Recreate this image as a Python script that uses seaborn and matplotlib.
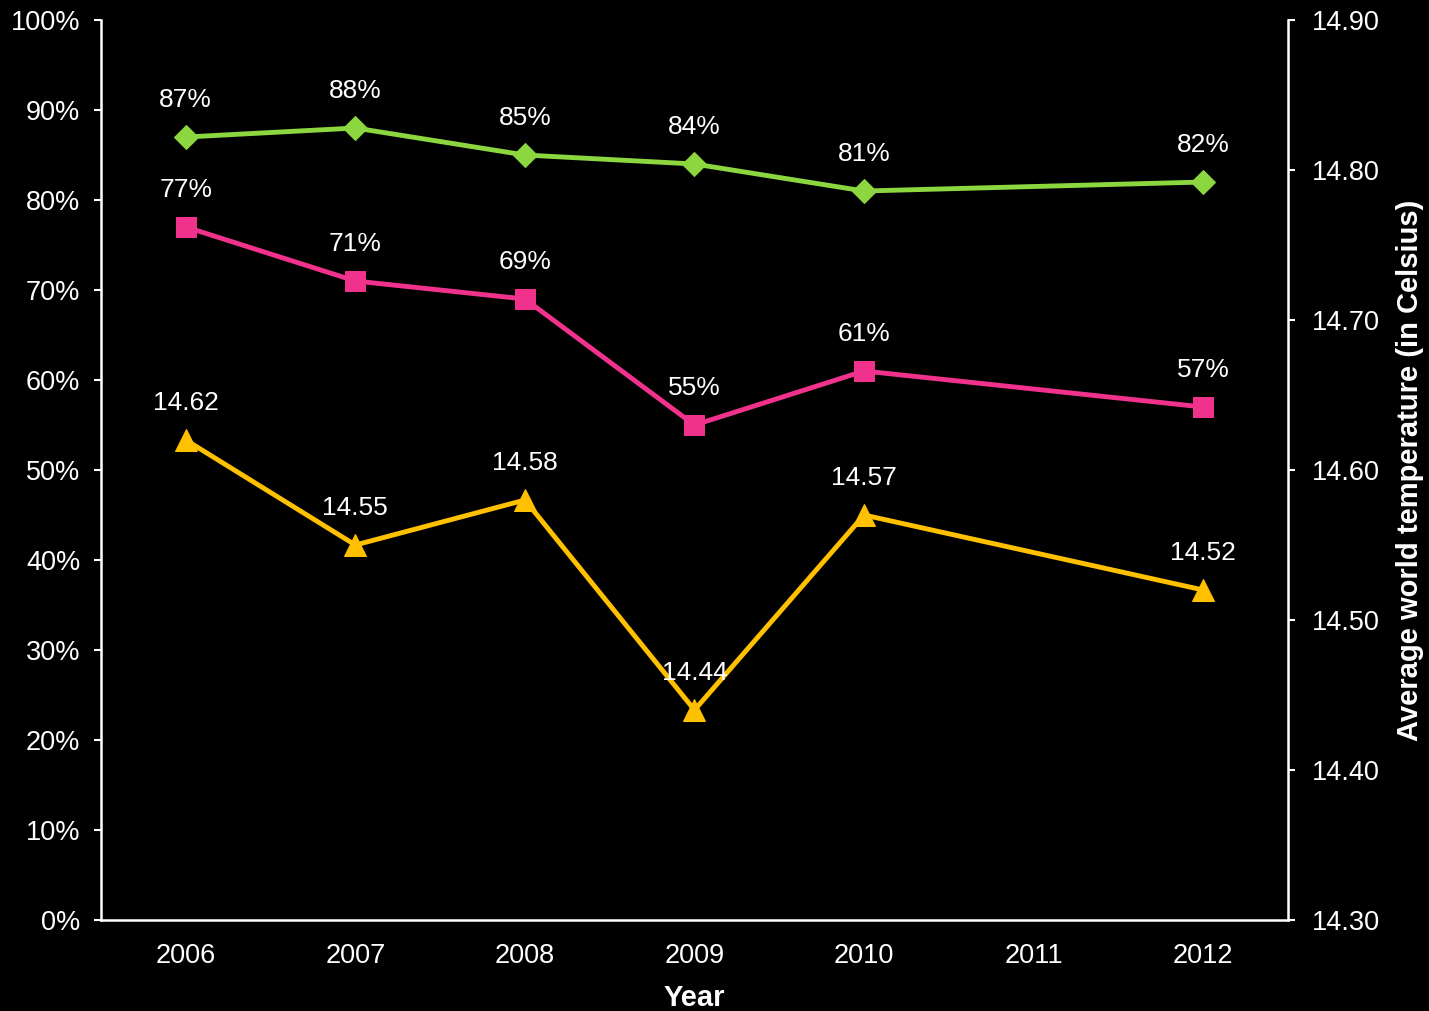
import pandas as pd
import matplotlib
matplotlib.use('Agg')
import matplotlib.pyplot as plt
import seaborn as sns
from matplotlib.ticker import FixedLocator, FuncFormatter

# data
years = [2006, 2007, 2008, 2009, 2010, 2012]
green_pct = [87, 88, 85, 84, 81, 82]
pink_pct = [77, 71, 69, 55, 61, 57]
temperature = [14.62, 14.55, 14.58, 14.44, 14.57, 14.52]
tick_years = [2006, 2007, 2008, 2009, 2010, 2011, 2012]

green = '#8CD640'
pink = '#F0328C'
yellow = '#FFC000'

sns.set_style('dark')
plt.rcParams['font.family'] = ['Liberation Sans', 'DejaVu Sans']
plt.rcParams['text.color'] = 'white'

df = pd.DataFrame({'Year': years, 'green': green_pct, 'pink': pink_pct, 'temp': temperature})

fig = plt.figure(figsize=(14.29, 10.11), dpi=100, facecolor='black')
ax = fig.add_axes([0.0707, 0.09, 0.8306, 0.8902])
ax.set_facecolor('black')
ax2 = ax.twinx()

sns.lineplot(data=df, x='Year', y='green', ax=ax, color=green, lw=3.5, marker='D',
             markersize=12, markeredgecolor=green)
sns.lineplot(data=df, x='Year', y='pink', ax=ax, color=pink, lw=3.5, marker='s',
             markersize=15, markeredgecolor=pink)
sns.lineplot(data=df, x='Year', y='temp', ax=ax2, color=yellow, lw=3.5, marker='^',
             markersize=16, markeredgecolor=yellow)

fs = 19
off = 26.5
for x, g, p, t in zip(years, green_pct, pink_pct, temperature):
    ax.annotate(f'{g}%', (x, g), xytext=(0, off), textcoords='offset points',
                ha='center', va='center', fontsize=fs, color='white')
    ax.annotate(f'{p}%', (x, p), xytext=(0, off), textcoords='offset points',
                ha='center', va='center', fontsize=fs, color='white')
    ax2.annotate(f'{t:.2f}', (x, t), xytext=(0, off), textcoords='offset points',
                 ha='center', va='center', fontsize=fs, color='white')

ax.set_xlim(2005.5, 2012.5)
ax.set_ylim(0, 100)
ax2.set_ylim(14.30, 14.90)

ax.set_xticks(tick_years)
ax.set_xticklabels([str(y) for y in tick_years])
ax.xaxis.set_minor_locator(FixedLocator([y + 0.5 for y in range(2005, 2013)]))
ax.tick_params(axis='x', which='major', length=0, pad=16.5, labelsize=19.5, colors='white')
ax.tick_params(axis='x', which='minor', length=6, width=1.5, color='white', direction='out')

ax.set_yticks(range(0, 101, 10))
ax.yaxis.set_major_formatter(FuncFormatter(lambda v, _: f'{v:.0f}%'))
ax.tick_params(axis='y', length=5, width=1.5, colors='white', labelsize=19.5, direction='out', pad=10)

ax2.set_yticks([14.30 + 0.1 * i for i in range(7)])
ax2.yaxis.set_major_formatter(FuncFormatter(lambda v, _: f'{v:.2f}'))
ax2.tick_params(axis='y', length=5, width=1.5, colors='white', labelsize=19.5, direction='out', pad=12)

ax.grid(False)
ax2.grid(False)
for a in (ax, ax2):
    for s in a.spines.values():
        s.set_visible(False)
ax.spines['left'].set_visible(True)
ax.spines['bottom'].set_visible(True)
ax2.spines['right'].set_visible(True)
for s in (ax.spines['left'], ax.spines['bottom'], ax2.spines['right']):
    s.set_color('white')
    s.set_linewidth(1.8)

ax.set_xlabel('Year', fontsize=21, fontweight='bold', color='white', labelpad=11)
ax.set_ylabel('')
ax2.set_ylabel('Average world temperature (in Celsius)', fontsize=21, fontweight='bold',
               color='white', labelpad=12)

fig.savefig('out.png', dpi=100, facecolor='black')
